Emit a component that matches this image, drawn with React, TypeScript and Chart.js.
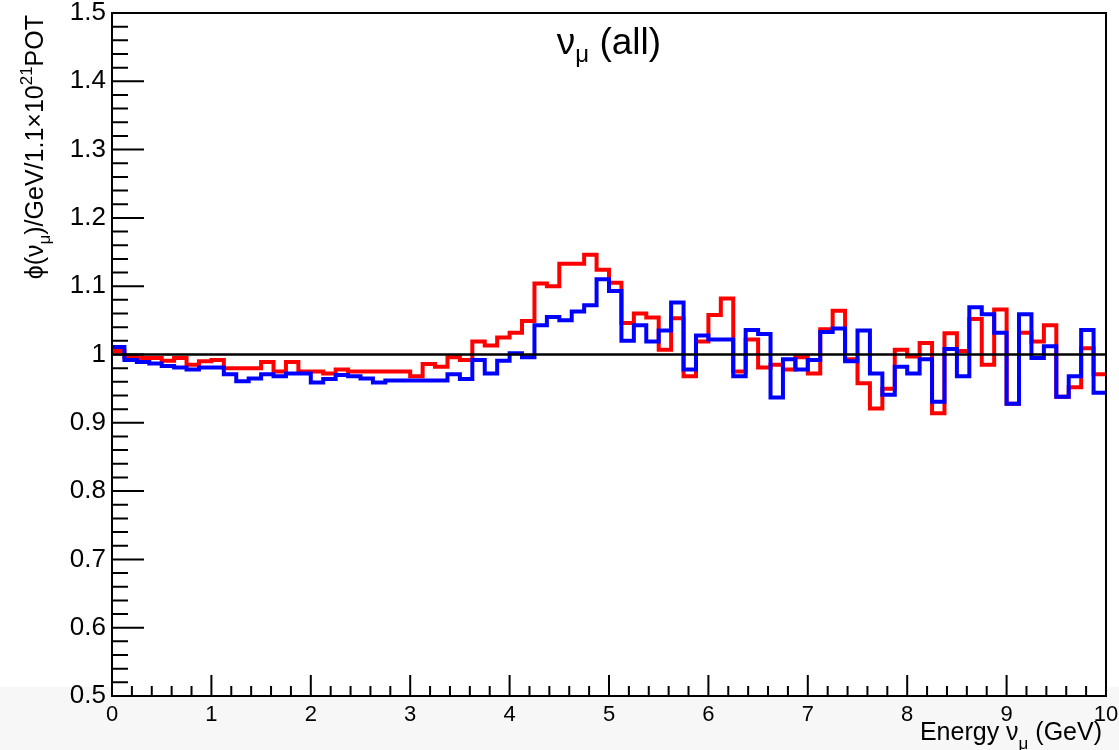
import React, { useEffect, useRef } from 'react';
import { Chart, registerables } from 'chart.js';

Chart.register(...registerables);

const FONT = '"Liberation Sans", Arial, Helvetica, sans-serif';

const X_MIN = 0;
const X_MAX = 10;
const Y_MIN = 0.5;
const Y_MAX = 1.5;

// 80 bins of 0.125 GeV, ratio values
const redValues = [
  1.005, 0.996, 0.995, 0.995, 0.991, 0.995, 0.985, 0.990, 0.992, 0.980,
  0.980, 0.980, 0.989, 0.975, 0.989, 0.975, 0.975, 0.972, 0.978, 0.975,
  0.975, 0.975, 0.975, 0.975, 0.968, 0.986, 0.982, 0.996, 0.992, 1.019,
  1.013, 1.025, 1.032, 1.049, 1.104, 1.100, 1.133, 1.133, 1.146, 1.124,
  1.105, 1.046, 1.060, 1.054, 1.007, 1.053, 0.968, 1.019, 1.058, 1.082,
  0.975, 1.022, 0.981, 0.985, 0.978, 0.996, 0.972, 1.037, 1.064, 0.993,
  0.958, 0.921, 0.950, 1.007, 0.997, 1.017, 0.914, 1.031, 1.005, 1.052,
  0.985, 1.066, 0.928, 1.032, 1.019, 1.043, 0.938, 0.952, 1.009, 0.971,
];

const blueValues = [
  1.011, 0.992, 0.989, 0.987, 0.983, 0.981, 0.978, 0.981, 0.981, 0.971,
  0.961, 0.965, 0.971, 0.968, 0.972, 0.972, 0.959, 0.964, 0.970, 0.968,
  0.965, 0.959, 0.962, 0.962, 0.962, 0.962, 0.962, 0.971, 0.964, 0.992,
  0.972, 0.991, 1.002, 0.996, 1.043, 1.055, 1.050, 1.063, 1.072, 1.110,
  1.093, 1.020, 1.043, 1.019, 1.035, 1.076, 0.978, 1.028, 1.022, 1.022,
  0.968, 1.036, 1.030, 0.937, 0.993, 0.978, 0.992, 1.033, 1.038, 0.990,
  1.035, 0.972, 0.941, 0.982, 0.972, 0.993, 0.931, 1.008, 0.968, 1.069,
  1.059, 1.032, 0.928, 1.059, 0.995, 1.012, 0.938, 0.968, 1.036, 0.944,
];

const referenceLevel = 1;

const xMajorTicks = [0, 1, 2, 3, 4, 5, 6, 7, 8, 9, 10];
const xMinorStep = 0.2;
const yMajorTicks = [0.5, 0.6, 0.7, 0.8, 0.9, 1, 1.1, 1.2, 1.3, 1.4, 1.5];
const yMinorStep = 0.02;

function histPoints(values: number[]) {
  const w = (X_MAX - X_MIN) / values.length;
  const pts = values.map((v, i) => ({ x: X_MIN + i * w, y: v }));
  pts.push({ x: X_MAX, y: values[values.length - 1] });
  return pts;
}

type Seg = { t: string; size: number; dy: number };

function segsWidth(ctx: CanvasRenderingContext2D, segs: Seg[]) {
  let w = 0;
  for (const s of segs) {
    ctx.font = `${s.size}px ${FONT}`;
    w += ctx.measureText(s.t).width;
  }
  return w;
}

function drawSegs(ctx: CanvasRenderingContext2D, segs: Seg[], x: number, y: number) {
  let cx = x;
  ctx.textAlign = 'left';
  ctx.textBaseline = 'alphabetic';
  for (const s of segs) {
    ctx.font = `${s.size}px ${FONT}`;
    ctx.fillText(s.t, cx, y + s.dy);
    cx += ctx.measureText(s.t).width;
  }
}

const rootStylePlugin = {
  id: 'rootStyle',
  beforeDraw(chart: any) {
    const { ctx, width, height, chartArea: a } = chart;
    ctx.save();
    ctx.fillStyle = '#ffffff';
    ctx.fillRect(0, 0, width, height);
    ctx.fillStyle = '#f7f7f7';
    ctx.fillRect(0, a.bottom - 9, width, height - (a.bottom - 9));
    ctx.fillStyle = '#ffffff';
    ctx.fillRect(a.left, a.top, a.right - a.left, a.bottom - a.top);
    ctx.restore();
  },
  afterDraw(chart: any) {
    const { ctx, chartArea: a } = chart;
    const xs = chart.scales.x;
    const ys = chart.scales.y;
    ctx.save();
    ctx.strokeStyle = '#000';
    ctx.lineWidth = 2;
    // ticks on y axis (inward)
    ctx.beginPath();
    const nY = Math.round((Y_MAX - Y_MIN) / yMinorStep);
    for (let i = 0; i <= nY; i++) {
      const v = Y_MIN + i * yMinorStep;
      const major = yMajorTicks.some((m) => Math.abs(m - v) < 1e-6);
      const py = ys.getPixelForValue(v);
      ctx.moveTo(a.left, py);
      ctx.lineTo(a.left + (major ? 32 : 16), py);
    }
    // ticks on x axis (inward)
    const nX = Math.round((X_MAX - X_MIN) / xMinorStep);
    for (let i = 0; i <= nX; i++) {
      const v = X_MIN + i * xMinorStep;
      const major = xMajorTicks.some((m) => Math.abs(m - v) < 1e-6);
      const px = xs.getPixelForValue(v);
      ctx.moveTo(px, a.bottom);
      ctx.lineTo(px, a.bottom - (major ? 21 : 10));
    }
    ctx.stroke();
    // frame
    ctx.strokeRect(a.left, a.top, a.right - a.left, a.bottom - a.top);

    ctx.fillStyle = '#000';
    // title
    const titleSegs: Seg[] = [
      { t: 'ν', size: 37, dy: 0 },
      { t: 'μ', size: 24, dy: 8 },
      { t: ' (all)', size: 37, dy: 0 },
    ];
    const tw = segsWidth(ctx, titleSegs);
    drawSegs(ctx, titleSegs, (a.left + a.right) / 2 - tw / 2, 54);

    // x axis title
    const xSegs: Seg[] = [
      { t: 'Energy ν', size: 25, dy: 0 },
      { t: 'μ', size: 17, dy: 9 },
      { t: ' (GeV)', size: 25, dy: 0 },
    ];
    const xw = segsWidth(ctx, xSegs);
    drawSegs(ctx, xSegs, a.right - 4 - xw, 740);

    // y axis title (rotated)
    const ySegs: Seg[] = [
      { t: 'ϕ(ν', size: 25, dy: 0 },
      { t: 'μ', size: 17, dy: 7 },
      { t: ')/GeV/1.1×10', size: 25, dy: 0 },
      { t: '21', size: 17, dy: -11 },
      { t: 'POT', size: 25, dy: 0 },
    ];
    const yw = segsWidth(ctx, ySegs);
    ctx.translate(43, 15);
    ctx.rotate(-Math.PI / 2);
    drawSegs(ctx, ySegs, -yw, 0);
    ctx.restore();
  },
};

export default function App() {
  const canvasRef = useRef<HTMLCanvasElement | null>(null);

  useEffect(() => {
    document.body.style.margin = '0';
    const canvas = canvasRef.current;
    if (!canvas) return;
    const chart = new Chart(canvas, {
      type: 'line',
      data: {
        datasets: [
          {
            label: 'reference',
            data: [
              { x: X_MIN, y: referenceLevel },
              { x: X_MAX, y: referenceLevel },
            ],
            borderColor: '#000000',
            borderWidth: 2.5,
            pointRadius: 0,
            fill: false,
          },
          {
            label: 'blue',
            data: histPoints(blueValues),
            borderColor: '#0000ff',
            borderWidth: 4,
            pointRadius: 0,
            stepped: 'before',
            fill: false,
          },
          {
            label: 'red',
            data: histPoints(redValues),
            borderColor: '#ff0000',
            borderWidth: 4,
            pointRadius: 0,
            stepped: 'before',
            fill: false,
          },
        ],
      },
      options: {
        responsive: false,
        animation: false,
        devicePixelRatio: 1,
        events: [],
        layout: { padding: { top: 13, right: 13, left: 0, bottom: 0 } },
        plugins: {
          legend: { display: false },
          tooltip: { enabled: false },
          title: { display: false },
        },
        scales: {
          x: {
            type: 'linear',
            min: X_MIN,
            max: X_MAX,
            grid: { display: false, drawTicks: false },
            border: { display: false },
            ticks: {
              stepSize: 1,
              autoSkip: false,
              maxRotation: 0,
              padding: 6,
              color: '#000',
              font: { family: FONT, size: 22 },
              callback: (v: any) => String(v),
            },
            afterFit: (s: any) => {
              s.height = 54;
              s.paddingLeft = 0;
              s.paddingRight = 0;
            },
          },
          y: {
            type: 'linear',
            min: Y_MIN,
            max: Y_MAX,
            grid: { display: false, drawTicks: false },
            border: { display: false },
            ticks: {
              stepSize: 0.1,
              autoSkip: false,
              padding: 6,
              color: '#000',
              font: { family: FONT, size: 26 },
              callback: (v: any) => String(Math.round(Number(v) * 10) / 10),
            },
            afterFit: (s: any) => {
              s.width = 112;
              s.paddingTop = 0;
              s.paddingBottom = 0;
            },
          },
        },
      },
      plugins: [rootStylePlugin],
    } as any);
    return () => chart.destroy();
  }, []);

  return (
    <div style={{ position: 'fixed', left: 0, top: 0, width: 1119, height: 750 }}>
      <canvas ref={canvasRef} width={1119} height={750} style={{ display: 'block' }} />
    </div>
  );
}
